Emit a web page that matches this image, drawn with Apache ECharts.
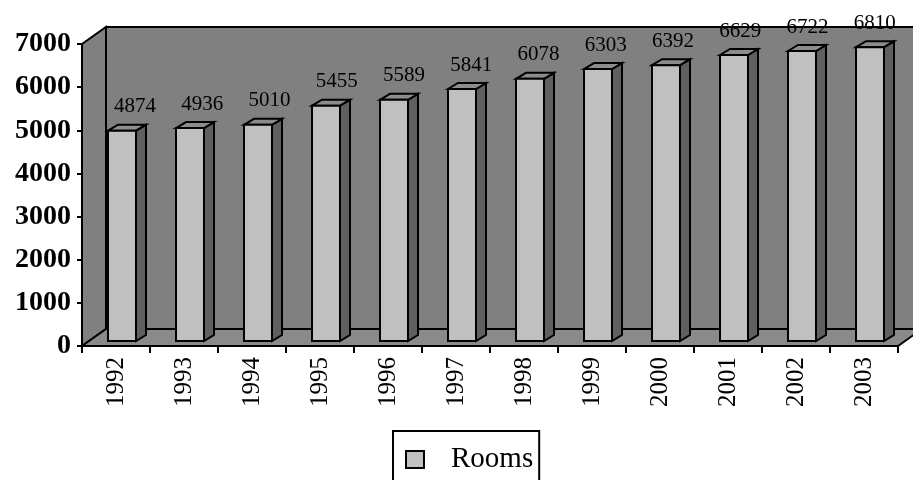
<!DOCTYPE html>
<html>
<head>
<meta charset="utf-8">
<style>
  html, body { margin: 0; padding: 0; background: #fff; }
  #chart { width: 913px; height: 480px; }
</style>
<script src="https://cdn.jsdelivr.net/npm/echarts@6/dist/echarts.min.js"></script>
</head>
<body>
<div id="chart"></div>
<script>
// Hotel rooms available per year
const years = ['1992', '1993', '1994', '1995', '1996', '1997', '1998', '1999', '2000', '2001', '2002', '2003'];
const rooms = [4874, 4936, 5010, 5455, 5589, 5841, 6078, 6303, 6392, 6629, 6722, 6810];
const yTicks = [0, 1000, 2000, 3000, 4000, 5000, 6000, 7000];

const SERIF = '"Liberation Serif", "Times New Roman", serif';

// Oblique depth of the box walls and of each column
const WALL_DX = 24, WALL_DY = -17;
const BAR_FX = -8, BAR_FY = -5;      // front face shift from the category centre / floor
const BAR_W = 28;
const BAR_DX = 10, BAR_DY = -6;      // column depth

function renderWalls(params, api) {
  const cs = params.coordSys;
  const x0 = cs.x, y0 = cs.y, x1 = cs.x + cs.width, y1 = cs.y + cs.height;
  const line = { stroke: '#000', lineWidth: 2, lineJoin: 'miter' };
  return {
    type: 'group',
    children: [
      { type: 'polygon', shape: { points: [[x0 + WALL_DX, y0 + WALL_DY], [x1 + WALL_DX + 40, y0 + WALL_DY], [x1 + WALL_DX + 40, y1 + WALL_DY], [x0 + WALL_DX, y1 + WALL_DY]] },
        style: Object.assign({ fill: '#808080' }, line) },
      { type: 'polygon', shape: { points: [[x0, y0], [x0 + WALL_DX, y0 + WALL_DY], [x0 + WALL_DX, y1 + WALL_DY], [x0, y1]] },
        style: Object.assign({ fill: '#808080' }, line) },
      { type: 'polygon', shape: { points: [[x0, y1], [x0 + WALL_DX, y1 + WALL_DY], [x1 + WALL_DX, y1 + WALL_DY], [x1, y1]] },
        style: Object.assign({ fill: '#8a8a8a' }, line) }
    ]
  };
}

function renderColumn(params, api) {
  const i = api.value(0);
  const v = api.value(1);
  const top = api.coord([i, v]);
  const base = api.coord([i, 0]);
  const L = top[0] + BAR_FX, R = L + BAR_W;
  const T = top[1] + BAR_FY, B = base[1] + BAR_FY;
  const line = { stroke: '#000', lineWidth: 2, lineJoin: 'miter' };
  return {
    type: 'group',
    children: [
      { type: 'polygon', shape: { points: [[R, T], [R + BAR_DX, T + BAR_DY], [R + BAR_DX, B + BAR_DY], [R, B]] },
        style: Object.assign({ fill: '#606060' }, line) },
      { type: 'polygon', shape: { points: [[L, T], [L + BAR_DX, T + BAR_DY], [R + BAR_DX, T + BAR_DY], [R, T]] },
        style: Object.assign({ fill: '#8c8c8c' }, line) },
      { type: 'rect', shape: { x: L, y: T, width: BAR_W, height: B - T },
        style: Object.assign({ fill: '#c0c0c0' }, line) },
      { type: 'text',
        x: top[0] + 19 - 0.75 * i, y: T + BAR_DY - 18,
        style: { text: String(v), fill: '#000', font: '21px ' + SERIF, align: 'center', verticalAlign: 'middle' } }
    ]
  };
}

const chart = echarts.init(document.getElementById('chart'), null, { renderer: 'canvas' });
chart.setOption({
  animation: false,
  backgroundColor: '#fff',
  grid: { left: 82, right: 15, top: 44, bottom: 134, containLabel: false },
  xAxis: {
    type: 'category',
    data: years,
    boundaryGap: true,
    axisLine: { show: true, lineStyle: { color: '#000', width: 2 } },
    axisTick: { show: true, length: 7, lineStyle: { color: '#000', width: 2 } },
    axisLabel: { rotate: 90, margin: 11, color: '#000', fontSize: 25, fontFamily: SERIF },
    splitLine: { show: false },
    z: 3
  },
  yAxis: {
    type: 'value',
    min: yTicks[0],
    max: yTicks[yTicks.length - 1],
    interval: yTicks[1] - yTicks[0],
    axisLine: { show: true, lineStyle: { color: '#000', width: 2 } },
    axisTick: { show: true, length: 5, lineStyle: { color: '#000', width: 2 } },
    axisLabel: { margin: 11, color: '#000', fontSize: 28, fontWeight: 'bold', fontFamily: SERIF,
      formatter: (val) => String(val) },
    splitLine: { show: false },
    z: 3
  },
  legend: {
    left: 393,
    top: 431,
    orient: 'horizontal',
    padding: [14, 6, 30, 12],
    borderColor: '#000',
    borderWidth: 2,
    itemWidth: 18,
    itemHeight: 17,
    selectedMode: false,
    data: [{ name: 'Rooms', icon: 'rect', itemStyle: { color: '#c0c0c0', borderColor: '#000', borderWidth: 2 } }],
    textStyle: { color: '#000', fontSize: 29, fontFamily: SERIF, padding: [0, 0, 0, 22] }
  },
  series: [
    {
      type: 'custom',
      name: 'walls',
      silent: true,
      clip: false,
      z: 0,
      renderItem: renderWalls,
      data: [[0, 0]]
    },
    {
      type: 'custom',
      name: 'Rooms',
      clip: false,
      z: 5,
      itemStyle: { color: '#c0c0c0' },
      renderItem: renderColumn,
      encode: { x: 0, y: 1 },
      data: years.map((y, i) => [i, rooms[i]])
    }
  ]
});
</script>
</body>
</html>
